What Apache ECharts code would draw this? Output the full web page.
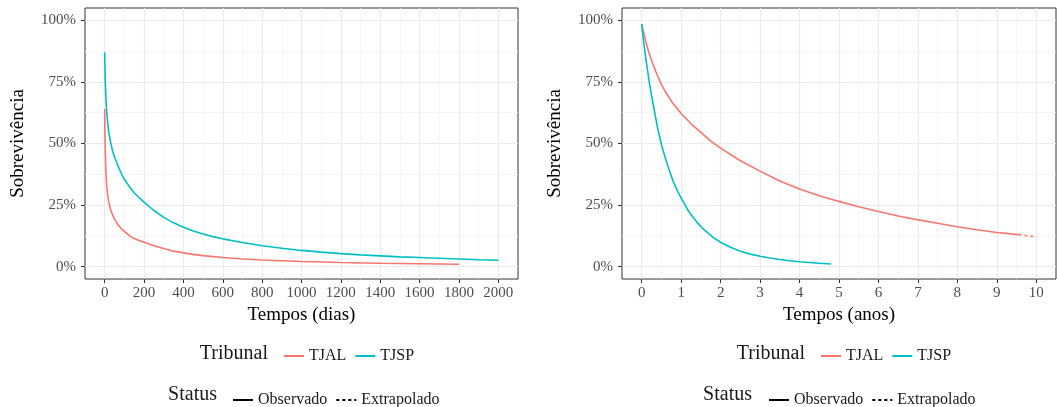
<!DOCTYPE html>
<html>
<head>
<meta charset="utf-8">
<script src="https://cdn.jsdelivr.net/npm/echarts@6/dist/echarts.min.js"></script>
<style>
  html, body { margin: 0; padding: 0; background: #fff; }
  #main { width: 1057px; height: 407px; }
</style>
</head>
<body>
<div id="main"></div>
<script>
// ---- dados ----
// painel esquerdo: tempos em dias
const tjalDiasT = [0, 1, 3, 6, 10, 15, 20, 30, 40, 50, 60, 75, 90, 100, 125, 150, 175, 200, 250, 300, 350, 400, 450, 500, 600, 700, 800, 900, 1000, 1200, 1400, 1600, 1800];
const tjalDiasS = [0.64, 0.56, 0.47, 0.39, 0.33, 0.29, 0.265, 0.232, 0.21, 0.193, 0.18, 0.163, 0.15, 0.142, 0.126, 0.114, 0.106, 0.099, 0.085, 0.074, 0.063, 0.056, 0.05, 0.045, 0.037, 0.031, 0.027, 0.024, 0.021, 0.017, 0.014, 0.012, 0.010];
const tjspDiasT = [0, 1, 3, 6, 10, 15, 20, 30, 40, 50, 60, 75, 90, 100, 125, 150, 175, 200, 250, 300, 350, 400, 450, 500, 550, 600, 700, 800, 900, 1000, 1100, 1200, 1300, 1400, 1500, 1600, 1700, 1800, 1900, 2000];
const tjspDiasS = [0.87, 0.82, 0.75, 0.69, 0.63, 0.585, 0.55, 0.505, 0.47, 0.445, 0.425, 0.395, 0.37, 0.355, 0.325, 0.30, 0.28, 0.262, 0.228, 0.20, 0.178, 0.16, 0.145, 0.133, 0.122, 0.113, 0.098, 0.085, 0.075, 0.066, 0.059, 0.053, 0.048, 0.044, 0.040, 0.037, 0.034, 0.031, 0.028, 0.026];

// painel direito: tempos em anos
const tjalAnosT = [0, 0.05, 0.1, 0.2, 0.3, 0.4, 0.5, 0.6, 0.8, 1, 1.25, 1.5, 1.75, 2, 2.5, 3, 3.5, 4, 4.5, 5, 5.5, 6, 6.5, 7, 7.5, 8, 8.5, 9, 9.55];
const tjalAnosS = [0.98, 0.95, 0.915, 0.86, 0.815, 0.775, 0.74, 0.71, 0.66, 0.622, 0.58, 0.545, 0.51, 0.481, 0.43, 0.388, 0.348, 0.315, 0.288, 0.265, 0.243, 0.224, 0.206, 0.19, 0.176, 0.162, 0.15, 0.139, 0.13];
const tjalExtT = [9.55, 10];
const tjalExtS = [0.13, 0.121];
const tjspAnosT = [0, 0.05, 0.1, 0.2, 0.3, 0.4, 0.5, 0.6, 0.7, 0.8, 0.9, 1, 1.2, 1.4, 1.6, 1.8, 2, 2.25, 2.5, 2.75, 3, 3.25, 3.5, 3.75, 4, 4.25, 4.5, 4.8];
const tjspAnosS = [0.985, 0.91, 0.85, 0.74, 0.65, 0.565, 0.495, 0.44, 0.39, 0.345, 0.31, 0.278, 0.222, 0.18, 0.147, 0.12, 0.099, 0.079, 0.063, 0.051, 0.042, 0.035, 0.029, 0.024, 0.02, 0.017, 0.014, 0.011];

// marcas dos eixos
const diasTicks = [0, 200, 400, 600, 800, 1000, 1200, 1400, 1600, 1800, 2000];
const diasMinor = [100, 300, 500, 700, 900, 1100, 1300, 1500, 1700, 1900];
const anosTicks = [0, 1, 2, 3, 4, 5, 6, 7, 8, 9, 10];
const anosMinor = [0.5, 1.5, 2.5, 3.5, 4.5, 5.5, 6.5, 7.5, 8.5, 9.5];
const survTicks = [0, 0.25, 0.5, 0.75, 1];
const survMinor = [0.125, 0.375, 0.625, 0.875];

const FONT = '"Liberation Serif", "DejaVu Serif", serif';
const COR_TJAL = '#F8766D';
const COR_TJSP = '#00BFC4';

const zip = (xs, ys) => xs.map((x, i) => [x, ys[i]]);

let chart = echarts.init(document.getElementById('main'), null, { renderer: 'canvas' });

// eixo x principal (com rótulos) e eixo auxiliar só para as linhas menores
const xMain = (grid, min, max, ticks, name) => ({
  type: 'value', gridIndex: grid, min: min, max: max,
  name: name, nameLocation: 'middle', nameGap: 24,
  nameTextStyle: { fontFamily: FONT, fontSize: 19, color: '#000' },
  axisLine: { show: false, onZero: false },
  axisTick: { show: true, length: 4, customValues: ticks, lineStyle: { color: '#333' } },
  axisLabel: {
    customValues: ticks, margin: 7, fontFamily: FONT, fontSize: 15, color: '#4d4d4d',
    formatter: v => String(v)
  },
  splitLine: { show: true, lineStyle: { color: '#ebebeb', width: 1.2 } }
});
const xMinor = (grid, min, max, ticks) => ({
  type: 'value', gridIndex: grid, min: min, max: max,
  axisLine: { show: false, onZero: false },
  axisTick: { show: false, customValues: ticks },
  axisLabel: { show: false, customValues: ticks },
  splitLine: { show: true, lineStyle: { color: '#f4f4f4', width: 0.8 } }
});
const yMain = (grid) => ({
  type: 'value', gridIndex: grid, min: -0.05, max: 1.05,
  name: 'Sobrevivência', nameLocation: 'middle', nameGap: 57,
  nameTextStyle: { fontFamily: FONT, fontSize: 19, color: '#000' },
  axisLine: { show: false, onZero: false },
  axisTick: { show: true, length: 4, customValues: survTicks, lineStyle: { color: '#333' } },
  axisLabel: {
    customValues: survTicks, margin: 9, fontFamily: FONT, fontSize: 15, color: '#4d4d4d',
    formatter: v => Math.round(v * 100) + '%'
  },
  splitLine: { show: true, lineStyle: { color: '#ebebeb', width: 1.2 } }
});
const yMinor = (grid) => ({
  type: 'value', gridIndex: grid, min: -0.05, max: 1.05,
  axisLine: { show: false, onZero: false },
  axisTick: { show: false, customValues: survMinor },
  axisLabel: { show: false, customValues: survMinor },
  splitLine: { show: true, lineStyle: { color: '#f4f4f4', width: 0.8 } }
});

const curva = (name, data, color, xi, dashed) => ({
  name: name, type: 'line', data: data,
  xAxisIndex: xi, yAxisIndex: xi,
  symbol: 'none', smooth: false,
  lineStyle: { color: color, width: 1.6, type: dashed ? [3, 3] : 'solid' },
  itemStyle: { color: color },
  silent: true, z: 3
});

const legendText = { fontFamily: FONT, fontSize: 16, color: '#1a1a1a' };
const legenda = (data, left, top) => ({
  data: data, left: left, top: top, orient: 'horizontal',
  itemWidth: 20, itemHeight: 14, itemGap: 8, selectedMode: false,
  itemStyle: { opacity: 0, borderWidth: 0 },
  textStyle: legendText
});
const titulo = (text, x, y) => ({
  type: 'text', x: x, y: y, silent: true,
  style: { text: text, align: 'right', verticalAlign: 'middle', font: '20px ' + FONT, fill: '#1a1a1a' }
});

let option = {
  animation: false,
  backgroundColor: '#fff',
  grid: [
    { left: 85, top: 8, width: 433, height: 271, show: true, borderColor: '#333', borderWidth: 1, backgroundColor: 'transparent' },
    { left: 622, top: 8, width: 434, height: 271, show: true, borderColor: '#333', borderWidth: 1, backgroundColor: 'transparent' }
  ],
  xAxis: [
    xMain(0, -100, 2100, diasTicks, 'Tempos (dias)'),
    xMinor(0, -100, 2100, diasMinor),
    xMain(1, -0.5, 10.5, anosTicks, 'Tempos (anos)'),
    xMinor(1, -0.5, 10.5, anosMinor)
  ],
  yAxis: [yMain(0), yMinor(0), yMain(1), yMinor(1)],
  legend: [
    legenda(['TJAL', 'TJSP'], 278, 343),
    legenda(['Observado', 'Extrapolado'], 227, 387),
    legenda(['TJAL', 'TJSP'], 815, 343),
    legenda(['Observado', 'Extrapolado'], 763, 387)
  ],
  graphic: [
    titulo('Tribunal', 268, 354),
    titulo('Status', 217, 395),
    titulo('Tribunal', 805, 354),
    titulo('Status', 752, 395)
  ],
  series: [
    curva('TJAL', zip(tjalDiasT, tjalDiasS), COR_TJAL, 0, false),
    curva('TJSP', zip(tjspDiasT, tjspDiasS), COR_TJSP, 0, false),
    curva('TJAL', zip(tjalAnosT, tjalAnosS), COR_TJAL, 2, false),
    curva('TJAL', zip(tjalExtT, tjalExtS), COR_TJAL, 2, true),
    curva('TJSP', zip(tjspAnosT, tjspAnosS), COR_TJSP, 2, false),
    // séries vazias só para a legenda de status
    curva('Observado', [], '#000', 0, false),
    curva('Extrapolado', [], '#000', 0, true)
  ]
};

if (option && typeof option === 'object') {
  chart.setOption(option);
}
</script>
</body>
</html>
